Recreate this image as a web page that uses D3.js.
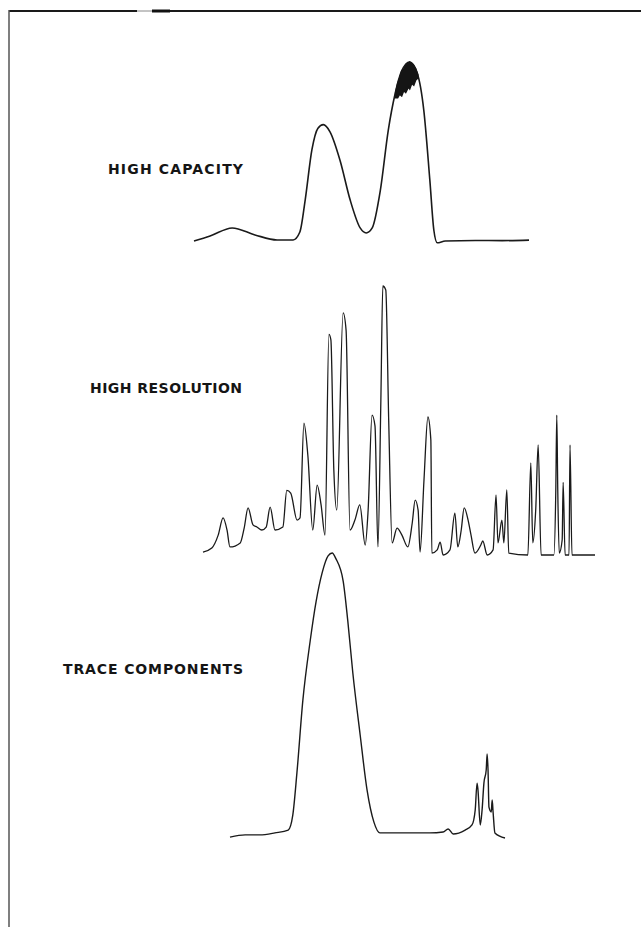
<!DOCTYPE html>
<html>
<head>
<meta charset="utf-8">
<script src="https://cdn.jsdelivr.net/npm/d3@7"></script>
<style>
  body { margin: 0; background: #fff; }
  svg { display: block; }
</style>
</head>
<body>
<div id="viz"></div>
<script>
// chromatogram traces, [time, detector response %]
let capacityTrace = [
  [0, 0], [2.4, 2.8], [5.7, 7.3], [9.1, 3.4], [12.4, 0.6], [14.8, 0.6], [15.8, 5],
  [16.6, 23], [17.6, 51], [18.5, 63], [19.3, 65], [20.3, 61], [21.8, 45], [23.3, 23],
  [24.8, 7.3], [25.7, 4.5], [26.6, 7.3], [27.8, 28], [29, 62], [30, 82], [31, 95],
  [32.2, 100], [33.3, 94], [34.3, 73], [35.2, 34], [35.8, 6], [36.3, -1], [37.5, 0],
  [42, 0.3], [46, 0.2], [50, 0.5]
];
// overloaded detector noise at the top of the second peak: [time, low, high]
let capacityNoise = [
  [30.1, 80, 83], [30.4, 80, 88], [30.7, 82, 91], [31, 81, 95], [31.3, 84, 96],
  [31.6, 83, 98], [32, 86, 99.5], [32.2, 85, 100], [32.5, 88, 99], [32.8, 87, 98],
  [33.1, 90, 96], [33.4, 91, 93]
];
let resolutionTrace = [
  [0, 1.1], [1.8, 2.6], [3.1, 7.4], [4.1, 13.8], [4.9, 9.3], [5.5, 3], [7.6, 4.5],
  [8.4, 10], [9.2, 17.5], [10.2, 11.2], [11, 10.4], [12, 9.3], [12.9, 10.4], [13.7, 17.8],
  [14.7, 9.3], [16.3, 10.4], [17.1, 24], [17.9, 23], [19.2, 13], [19.8, 13.8], [20.6, 49],
  [21.4, 37], [22.4, 9.3], [23.3, 26], [24.1, 18.6], [24.9, 7.4], [25.7, 82], [26.1, 80],
  [26.7, 31.6], [27.3, 16.7], [28.6, 90], [29.2, 83.6], [30, 9.3], [31, 13], [32, 18.6],
  [33.1, 3.7], [33.7, 16.7], [34.5, 52], [35.1, 48], [35.7, 3], [36.3, 57.6], [36.7, 100],
  [37.3, 98.5], [37.9, 50], [38.6, 4.5], [39.6, 10], [40.6, 7.4], [41.8, 3], [42.7, 11.9],
  [43.3, 20.4], [43.9, 16.7], [44.3, 1.1], [45.1, 27.9], [45.9, 51.3], [46.5, 42.8],
  [46.7, 0.7], [47.8, 1.9], [48.4, 4.8], [49, 0], [50.4, 1.9], [51.4, 15.6], [52, 3],
  [52.7, 9.3], [53.3, 17.5], [54.1, 13], [54.7, 7.4], [55.5, 0.7], [56.7, 3.7], [57.1, 5.2],
  [58, 0], [59.2, 1.9], [59.8, 22.3], [60.2, 4.5], [61, 13], [61.4, 4.5], [62, 24.2],
  [62.4, 0.7], [66.3, 0], [66.9, 34.2], [67.3, 4.5], [67.9, 16.7], [68.4, 40.9], [69, 0],
  [71.6, 0], [72, 24.2], [72.2, 52], [72.4, 24.2], [72.7, 0.7], [73.3, 5.6], [73.5, 27],
  [73.9, 0], [74.7, 0], [74.9, 40.9], [75.3, 0], [80, 0]
];
let traceTrace = [
  [0, -0.4], [3.3, 0.4], [6.5, 0.4], [9.8, 1.1], [12.7, 2.1], [13.7, 7.4], [14.6, 22.3],
  [15.9, 48], [17.5, 69], [18.8, 83], [20.1, 93], [21.4, 99], [22.3, 100], [23.1, 98],
  [24.7, 90], [25.7, 76], [26.8, 57.6], [28.4, 35.7], [29.9, 16.3], [31.4, 4.9],
  [32.7, 1.1], [37.1, 1.1], [43.6, 1.1], [46.5, 1.4], [47.6, 2.5], [48.7, 0.7], [51.3, 2.1],
  [52.8, 3.9], [53.5, 9.2], [53.9, 18.7], [54.1, 16.3], [54.6, 3.9], [55, 9.2], [55.4, 18.7],
  [55.9, 23.3], [56.1, 29], [56.3, 23.3], [56.5, 10.2], [57, 8.5], [57.2, 12.7], [57.4, 8.5],
  [57.8, 1.1], [60, -0.7]
];

let labels = ['HIGH CAPACITY', 'HIGH RESOLUTION', 'TRACE COMPONENTS'];

const W = 641, H = 927;

let svg = d3.select('#viz').append('svg')
  .attr('width', W)
  .attr('height', H);

// page frame (top and left rule only)
svg.append('line').attr('x1', 9).attr('y1', 11).attr('x2', 137).attr('y2', 11)
  .attr('stroke', '#1a1a1a').attr('stroke-width', 2);
svg.append('line').attr('x1', 137).attr('y1', 11).attr('x2', 152).attr('y2', 11)
  .attr('stroke', '#888').attr('stroke-width', 1);
svg.append('line').attr('x1', 152).attr('y1', 11).attr('x2', 170).attr('y2', 11)
  .attr('stroke', '#111').attr('stroke-width', 3);
svg.append('line').attr('x1', 170).attr('y1', 11).attr('x2', W).attr('y2', 11)
  .attr('stroke', '#1a1a1a').attr('stroke-width', 2);
svg.append('line').attr('x1', 9).attr('y1', 10).attr('x2', 9).attr('y2', H)
  .attr('stroke', '#555').attr('stroke-width', 1.5);

let panels = [
  { data: capacityTrace, xd: [0, 50], xr: [194, 529], yr: [241, 62],
    label: { x: 108, y: 174, len: 135 }, width: 1.6 },
  { data: resolutionTrace, xd: [0, 80], xr: [203, 595], yr: [555, 286],
    label: { x: 90, y: 393, len: 152 }, width: 1.3 },
  { data: traceTrace, xd: [0, 60], xr: [230, 505], yr: [836, 553],
    label: { x: 63, y: 674, len: 180 }, width: 1.4 }
];

panels.forEach(function (p, i) {
  let x = d3.scaleLinear().domain(p.xd).range(p.xr);
  let y = d3.scaleLinear().domain([0, 100]).range(p.yr);

  let line = d3.line()
    .x(d => x(d[0]))
    .y(d => y(d[1]))
    .curve(d3.curveMonotoneX);

  svg.append('path')
    .datum(p.data)
    .attr('d', line)
    .attr('fill', 'none')
    .attr('stroke', '#1a1a1a')
    .attr('stroke-width', p.width)
    .attr('stroke-linejoin', 'round');

  if (i === 0) {
    let blob = d3.area()
      .x(d => x(d[0]))
      .y0(d => y(d[1]))
      .y1(d => y(d[2]))
      .curve(d3.curveLinear);

    svg.append('path')
      .datum(capacityNoise)
      .attr('d', blob)
      .attr('fill', '#151515')
      .attr('stroke', '#151515')
      .attr('stroke-width', 1.5);
  }

  svg.append('text')
    .text(labels[i])
    .attr('x', p.label.x)
    .attr('y', p.label.y)
    .attr('textLength', p.label.len)
    .attr('lengthAdjust', 'spacing')
    .style('font-family', '"DejaVu Sans", sans-serif')
    .style('font-weight', 'bold')
    .style('font-size', '14px')
    .style('fill', '#151515');
});
</script>
</body>
</html>
